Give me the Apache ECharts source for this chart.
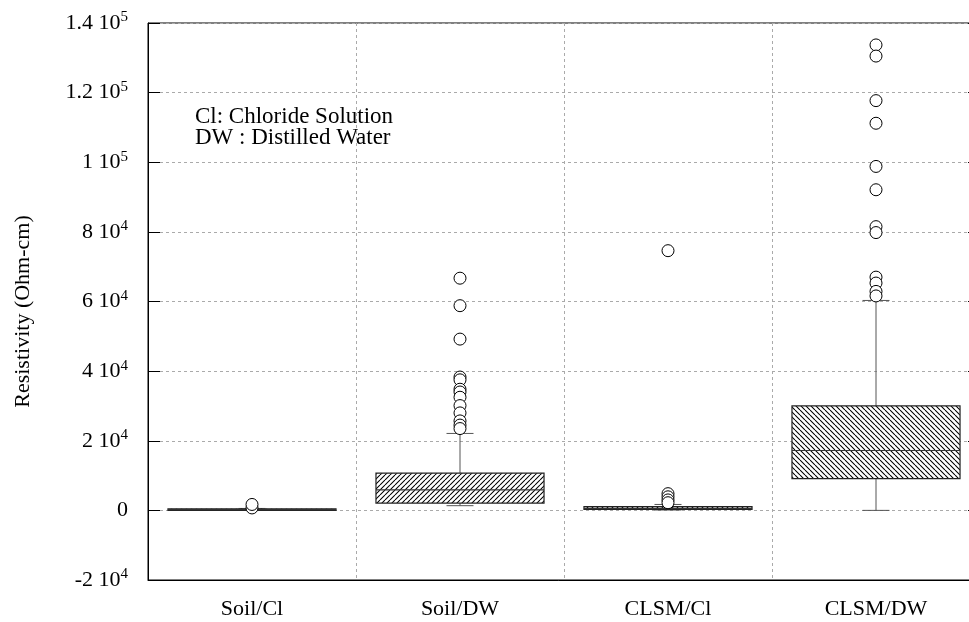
<!DOCTYPE html>
<html>
<head>
<meta charset="utf-8">
<script src="https://cdn.jsdelivr.net/npm/echarts@6/dist/echarts.min.js"></script>
<style>
html,body{margin:0;padding:0;background:#fff;}
#chart{width:969px;height:622px;}
</style>
</head>
<body>
<div id="chart"></div>
<script>
const categories = ['Soil/Cl', 'Soil/DW', 'CLSM/Cl', 'CLSM/DW'];
const whiskerLow  = [0,    1350, 100,  0];
const quart1      = [0,    2100, 300,  9100];
const median      = [200,  5900, 600,  17200];
const quart3      = [450,  10700, 1100, 30000];
const whiskerHigh = [550,  22100, 1700, 60300];
const outliersSoilCl = [700, 1700];
const outliersSoilDW = [66700, 58800, 49200, 38300, 37500, 34800, 34000, 32500, 30100, 28000, 25700, 24500, 23500];
const outliersClsmCl = [74600, 4800, 3900, 3000, 2200];
const outliersClsmDW = [133700, 130500, 117700, 111200, 98800, 92100, 81500, 79800, 67000, 65300, 62900, 61600];
const yMin = -20000, yMax = 140000, yStep = 20000;
const legendLines = ['Cl: Chloride Solution', 'DW : Distilled Water'];
const yAxisTitle = 'Resistivity (Ohm-cm)';

const FONT = '"Liberation Serif", "Times New Roman", serif';

function hatch(dir) {
  const s = 5;
  const c = document.createElement('canvas');
  c.width = s; c.height = s;
  const ctx = c.getContext('2d');
  ctx.fillStyle = '#fff';
  ctx.fillRect(0, 0, s, s);
  ctx.strokeStyle = '#000';
  ctx.lineWidth = 1.05;
  ctx.beginPath();
  for (let i = -s; i <= s; i += s) {
    if (dir > 0) { ctx.moveTo(i, s); ctx.lineTo(i + s, 0); }
    else { ctx.moveTo(i, 0); ctx.lineTo(i + s, s); }
  }
  ctx.stroke();
  return c;
}
const patterns = [hatch(1), hatch(1), hatch(-1), hatch(-1)];

const boxData = categories.map((c, i) => [i, whiskerLow[i], quart1[i], median[i], quart3[i], whiskerHigh[i]]);
const outlierGroups = [outliersSoilCl, outliersSoilDW, outliersClsmCl, outliersClsmDW];
const outlierData = [];
outlierGroups.forEach((g, i) => g.forEach(v => outlierData.push([i, v])));

function fmtY(v) {
  if (v === 0) return '{b|0}';
  const e = Math.floor(Math.log10(Math.abs(v)) + 1e-9);
  const m = Math.round(v / Math.pow(10, e) * 100) / 100;
  return '{b|' + m + ' 10}{s|' + e + '}';
}

const chart = echarts.init(document.getElementById('chart'), null, {renderer: 'canvas'});
chart.setOption({
  animation: false,
  backgroundColor: '#fff',
  grid: {left: 148, right: -11, top: 23, bottom: 42, containLabel: false, outerBoundsMode: 'none',
         show: true, borderColor: '#000', borderWidth: 1, backgroundColor: 'transparent'},
  xAxis: {
    type: 'category',
    data: categories,
    boundaryGap: true,
    axisLine: {onZero: false, lineStyle: {color: '#000', width: 1}},
    axisTick: {inside: true, length: 12, lineStyle: {color: '#000'}},
    axisLabel: {color: '#000', fontFamily: FONT, fontSize: 22, margin: 18},
    splitLine: {show: true, lineStyle: {color: '#aaa', type: [3, 3], width: 1}}
  },
  yAxis: [{
    type: 'value',
    min: yMin, max: yMax, interval: yStep,
    name: yAxisTitle,
    nameLocation: 'middle',
    nameGap: 114,
    nameTextStyle: {color: '#000', fontFamily: FONT, fontSize: 22, padding: [0, 20, 0, 0]},
    axisLine: {show: true, lineStyle: {color: '#000', width: 1}},
    axisTick: {show: true, inside: true, length: 12, lineStyle: {color: '#000'}},
    axisLabel: {
      color: '#000', margin: 20,
      formatter: fmtY,
      rich: {
        b: {fontFamily: FONT, fontSize: 22, lineHeight: 26, color: '#000'},
        s: {fontFamily: FONT, fontSize: 15, lineHeight: 14, verticalAlign: 'top', color: '#000'}
      }
    },
    splitLine: {show: true, lineStyle: {color: '#aaa', type: [3, 3], width: 1}}
  }, {
    type: 'value',
    position: 'right',
    min: yMin, max: yMax, interval: yStep,
    axisLine: {show: true, lineStyle: {color: '#000'}},
    axisTick: {show: true, inside: true, length: 12, lineStyle: {color: '#000'}},
    axisLabel: {show: false},
    splitLine: {show: false}
  }],
  graphic: [{
    type: 'text',
    left: 195, top: 105,
    style: {text: legendLines.join('\n'), font: '23px ' + FONT, fill: '#000', lineHeight: 21}
  }],
  series: [{
    type: 'custom',
    data: boxData,
    encode: {x: 0, y: [1, 2, 3, 4, 5]},
    z: 2,
    renderItem: function (params, api) {
      const i = api.value(0);
      const pLow = api.coord([i, api.value(1)]);
      const pQ1 = api.coord([i, api.value(2)]);
      const pMed = api.coord([i, api.value(3)]);
      const pQ3 = api.coord([i, api.value(4)]);
      const pHigh = api.coord([i, api.value(5)]);
      const band = api.size([1, 0])[0];
      const bw = band * 0.808;
      const cw = 27;
      const cx = pMed[0];
      const wStyle = {stroke: '#555', lineWidth: 1, fill: null};
      return {
        type: 'group',
        children: [
          {type: 'line', shape: {x1: cx, y1: pQ3[1], x2: cx, y2: pHigh[1]}, style: wStyle},
          {type: 'line', shape: {x1: cx, y1: pQ1[1], x2: cx, y2: pLow[1]}, style: wStyle},
          {type: 'line', shape: {x1: cx - cw / 2, y1: pHigh[1], x2: cx + cw / 2, y2: pHigh[1]}, style: wStyle},
          {type: 'line', shape: {x1: cx - cw / 2, y1: pLow[1], x2: cx + cw / 2, y2: pLow[1]}, style: wStyle},
          {type: 'rect', shape: {x: cx - bw / 2, y: pQ3[1], width: bw, height: Math.max(pQ1[1] - pQ3[1], 1)},
           style: {fill: {image: patterns[i], repeat: 'repeat'}, stroke: '#222', lineWidth: 1.2}},
          {type: 'line', shape: {x1: cx - bw / 2, y1: pMed[1], x2: cx + bw / 2, y2: pMed[1]}, style: {stroke: '#333', lineWidth: 1.2}}
        ]
      };
    }
  }, {
    type: 'scatter',
    data: outlierData,
    symbol: 'circle',
    symbolSize: 12,
    z: 3,
    itemStyle: {color: '#fff', borderColor: '#000', borderWidth: 1, opacity: 1}
  }]
});
</script>
</body>
</html>
